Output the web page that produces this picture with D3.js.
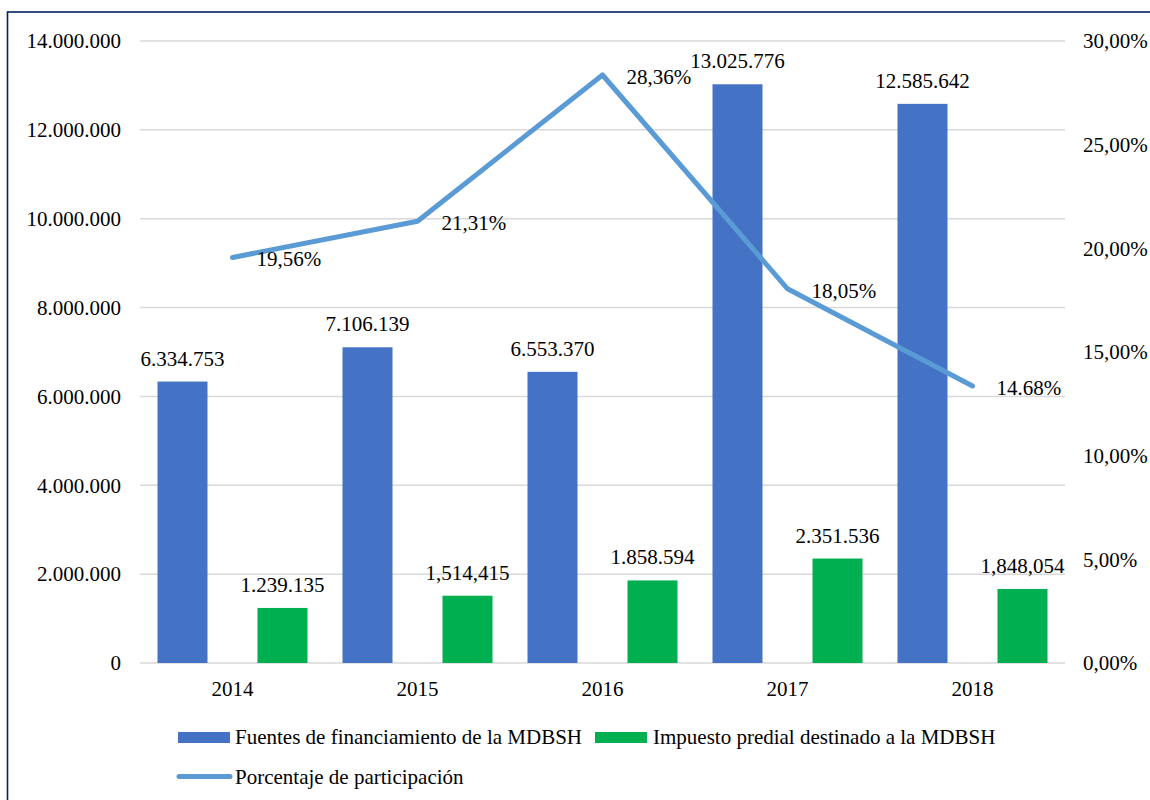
<!DOCTYPE html>
<html>
<head>
<meta charset="utf-8">
<script src="https://cdn.jsdelivr.net/npm/d3@7"></script>
<style>
  html, body { margin: 0; padding: 0; background: #fff; }
  svg { display: block; }
  text { font-family: "Liberation Serif", "Times New Roman", serif; fill: #000; }
</style>
</head>
<body>
<svg id="chart" width="1150" height="800"></svg>
<script>
// ---- Data ----
const years = ["2014", "2015", "2016", "2017", "2018"];
const fuentes = [6334753, 7106139, 6553370, 13025776, 12585642];
const fuentesLabels = ["6.334.753", "7.106.139", "6.553.370", "13.025.776", "12.585.642"];
const impuesto = [1239135, 1514415, 1858594, 2351536, 1666000];
const impuestoLabels = ["1.239.135", "1,514,415", "1.858.594", "2.351.536", "1,848,054"];
const porcentaje = [19.56, 21.31, 28.36, 18.05, 13.36];
const porcentajeLabels = ["19,56%", "21,31%", "28,36%", "18,05%", "14.68%"];
const leftTicks = [0, 2000000, 4000000, 6000000, 8000000, 10000000, 12000000, 14000000];
const rightTicks = [0, 5, 10, 15, 20, 25, 30];
const seriesNames = ["Fuentes de financiamiento de la MDBSH", "Impuesto predial destinado a la MDBSH", "Porcentaje de participación"];

// ---- Styles ----
const C_BLUE = "#4472C4", C_GREEN = "#00B050", C_LINE = "#5B9BD5", C_GRID = "#D9D9D9";
const FONT = 21;

const svg = d3.select("#chart");
const plot = { left: 140, right: 1065, top: 41, bottom: 663 };

// Border frame
svg.append("rect").attr("x", 7.5).attr("y", 12).attr("width", 1200).attr("height", 900)
  .attr("fill", "none").attr("stroke", "#002060").attr("stroke-width", 1.6);

const loc = d3.formatLocale({ decimal: ",", thousands: ".", grouping: [3], currency: ["", ""] });
const fmtLeft = loc.format(",.0f");

const x = d3.scaleBand().domain(years).range([plot.left, plot.right]).padding(0);
const xs = d3.scaleBand().domain(["f", "i"]).range([0, x.bandwidth()]).paddingInner(0.5).paddingOuter(0.175);
const y = d3.scaleLinear().domain([0, 14000000]).range([plot.bottom, plot.top]);
const y2 = d3.scaleLinear().domain([0, 30]).range([plot.bottom, plot.top]);

// Gridlines
svg.append("g").selectAll("line").data(leftTicks).join("line")
  .attr("x1", plot.left).attr("x2", plot.right)
  .attr("y1", d => y(d)).attr("y2", d => y(d))
  .attr("stroke", C_GRID).attr("stroke-width", 1.5);

// Left axis labels
const yAxis = d3.axisLeft(y).tickValues(leftTicks).tickFormat(fmtLeft).tickSize(0).tickPadding(19);
const gl = svg.append("g").attr("transform", `translate(${plot.left},0)`).call(yAxis);
gl.select(".domain").remove();
gl.selectAll("text").style("font-size", FONT + "px").style("font-family", "Liberation Serif").attr("fill", "#000");

// Right axis labels
const yAxis2 = d3.axisRight(y2).tickValues(rightTicks).tickFormat(d => d.toFixed(2).replace(".", ",") + "%").tickSize(0).tickPadding(18);
const gr = svg.append("g").attr("transform", `translate(${plot.right},0)`).call(yAxis2);
gr.select(".domain").remove();
gr.selectAll("text").style("font-size", FONT + "px").style("font-family", "Liberation Serif").attr("fill", "#000");

// X axis labels
const xAxis = d3.axisBottom(x).tickSize(0).tickPadding(18);
const gx = svg.append("g").attr("transform", `translate(0,${plot.bottom})`).call(xAxis);
gx.select(".domain").remove();
gx.selectAll("text").style("font-size", FONT + "px").style("font-family", "Liberation Serif").attr("fill", "#000");

// Bars
const rows = years.map((yr, i) => ({ yr, f: fuentes[i], fl: fuentesLabels[i], im: impuesto[i], il: impuestoLabels[i], p: porcentaje[i], pl: porcentajeLabels[i] }));

svg.append("g").selectAll("rect").data(rows).join("rect")
  .attr("x", d => x(d.yr) + xs("f")).attr("width", xs.bandwidth())
  .attr("y", d => y(d.f)).attr("height", d => y(0) - y(d.f))
  .attr("fill", C_BLUE);
svg.append("g").selectAll("rect").data(rows).join("rect")
  .attr("x", d => x(d.yr) + xs("i")).attr("width", xs.bandwidth())
  .attr("y", d => y(d.im)).attr("height", d => y(0) - y(d.im))
  .attr("fill", C_GREEN);

// Bar labels
svg.append("g").selectAll("text").data(rows).join("text")
  .attr("x", d => x(d.yr) + xs("f") + xs.bandwidth() / 2).attr("y", d => y(d.f) - 16)
  .attr("text-anchor", "middle").style("font-size", FONT + "px").text(d => d.fl);
svg.append("g").selectAll("text").data(rows).join("text")
  .attr("x", d => x(d.yr) + xs("i") + xs.bandwidth() / 2).attr("y", d => y(d.im) - 16)
  .attr("text-anchor", "middle").style("font-size", FONT + "px").text(d => d.il);

// Line
const line = d3.line().x(d => x(d.yr) + x.bandwidth() / 2).y(d => y2(d.p));
svg.append("path").datum(rows).attr("d", line)
  .attr("fill", "none").attr("stroke", C_LINE).attr("stroke-width", 5)
  .attr("stroke-linecap", "round").attr("stroke-linejoin", "round");

// Line labels
svg.append("g").selectAll("text").data(rows).join("text")
  .attr("x", d => x(d.yr) + x.bandwidth() / 2 + 24).attr("y", d => y2(d.p) + 9)
  .style("font-size", FONT + "px").text(d => d.pl);

// Legend
const lg = svg.append("g");
lg.append("rect").attr("x", 178).attr("y", 732).attr("width", 52).attr("height", 11).attr("fill", C_BLUE);
lg.append("text").attr("x", 235).attr("y", 744).style("font-size", FONT + "px").text(seriesNames[0]);
lg.append("rect").attr("x", 595).attr("y", 732).attr("width", 52).attr("height", 11).attr("fill", C_GREEN);
lg.append("text").attr("x", 653).attr("y", 744).style("font-size", FONT + "px").text(seriesNames[1]);
lg.append("line").attr("x1", 179).attr("x2", 230).attr("y1", 776.5).attr("y2", 776.5)
  .attr("stroke", C_LINE).attr("stroke-width", 5).attr("stroke-linecap", "round");
lg.append("text").attr("x", 235).attr("y", 784).style("font-size", FONT + "px").text(seriesNames[2]);
</script>
</body>
</html>
